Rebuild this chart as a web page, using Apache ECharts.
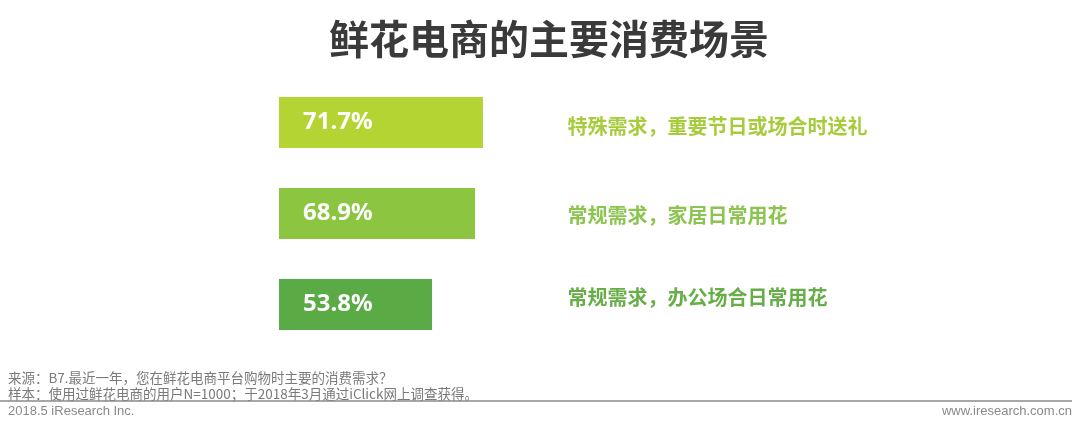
<!DOCTYPE html>
<html><head><meta charset="utf-8">
<script src="https://cdn.jsdelivr.net/npm/echarts@6/dist/echarts.min.js"></script>
<style>html,body{margin:0;padding:0;background:#fff;}#c{width:1080px;height:427px;}</style>
</head><body><div id="c"></div>
<script>
const title = '鲜花电商的主要消费场景';
const categories = ['特殊需求，重要节日或场合时送礼', '常规需求，家居日常用花', '常规需求，办公场合日常用花'];
const values = [71.7, 68.9, 53.8];
const barColors = ['#b4d433', '#8cc641', '#5aab46'];
const labelColors = ['#a6cc3b', '#8cc450', '#67ad48'];
const footnotes = ['来源：B7.最近一年，您在鲜花电商平台购物时主要的消费需求？', '样本：使用过鲜花电商的用户N=1000；于2018年3月通过iClick网上调查获得。'];
const copyright = '2018.5 iResearch Inc.';
const website = 'www.iresearch.com.cn';

const chart = echarts.init(document.getElementById('c'));
const richStyles = {};
const pads = [[8,0,0,0],[3,0,0,0],[0,0,15,0]];
labelColors.forEach((c,i)=>{ richStyles['l'+i] = {color:c, fontSize:20, fontWeight:'bold', fontFamily:'Noto Sans CJK SC', padding:pads[i]}; });
const F = 'Noto Sans CJK SC';
chart.setOption({
  backgroundColor:'#fff',
  animation:false,
  title:{text:title, left:324, top:14, textStyle:{fontSize:40, fontWeight:'bold', color:'#3a3a3a', fontFamily:F}},
  grid:{left:279, width:284.5, top:77, height:273},
  xAxis:{type:'value', min:0, max:100, show:false},
  yAxis:[
    {type:'category', data:categories, inverse:true, show:false},
    {type:'category', data:categories, inverse:true, position:'right', axisLine:{show:false}, axisTick:{show:false},
     axisLabel:{margin:4, formatter:(v,i)=>'{l'+i+'|'+v+'}', rich:richStyles}}
  ],
  series:[{type:'bar', data:values.map((v,i)=>({value:v, itemStyle:{color:barColors[i]}})), barWidth:51,
    label:{show:true, position:'insideLeft', distance:24, formatter:'{c}%', color:'#fff', fontSize:24, fontWeight:'bold', fontFamily:'Noto Sans', padding:[4,0,0,0]}}],
  graphic:[
    {type:'text', left:8, top:371, style:{text:footnotes[0], fill:'#7a7a7a', fontSize:13.5, fontFamily:F}},
    {type:'text', left:8, top:387, style:{text:footnotes[1], fill:'#7a7a7a', fontSize:13.5, fontFamily:F}},
    {type:'line', shape:{x1:0, y1:401, x2:1072, y2:401}, style:{stroke:'#8a8a8a', lineWidth:1.5}},
    {type:'text', left:8, top:405, style:{text:copyright, fill:'#8a8a8a', fontSize:13, fontFamily:'Liberation Sans'}},
    {type:'text', right:8, top:405, style:{text:website, fill:'#8a8a8a', fontSize:13, fontFamily:'Liberation Sans'}}
  ]
});
</script></body></html>
